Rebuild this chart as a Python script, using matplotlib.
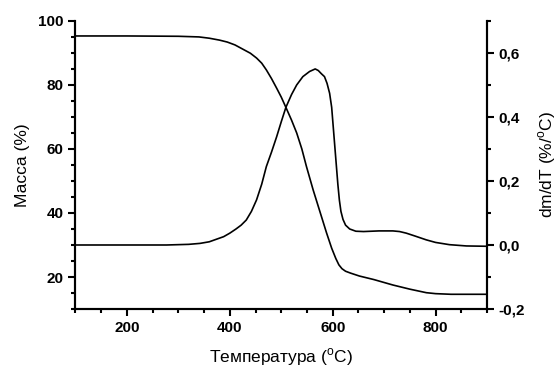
import numpy as np
import matplotlib as mpl
import matplotlib.pyplot as plt
from matplotlib.ticker import MultipleLocator, FuncFormatter

plt.rcParams['font.family'] = ['Liberation Sans', 'DejaVu Sans']
plt.rcParams['mathtext.fontset'] = 'custom'
plt.rcParams['mathtext.rm'] = 'Liberation Sans'

# TG curve: mass (%) vs temperature (C)
tg_temp = [100, 200, 300, 340, 360, 380, 395, 410, 425, 440, 452, 462, 471, 481, 491, 500,
           509, 520, 530, 540, 549, 562, 575, 588, 598, 606, 612, 618, 625, 635, 652, 680,
           717, 750, 782, 800, 830, 900]
tg_mass = [95.3, 95.3, 95.2, 95.0, 94.6, 94.0, 93.4, 92.5, 91.2, 89.9, 88.4, 86.8, 84.7, 82.0,
           79.0, 76.2, 73.0, 69.0, 65.0, 60.0, 54.5, 47.2, 40.5, 33.8, 29.0, 25.8, 23.8, 22.6,
           21.8, 21.2, 20.3, 19.2, 17.5, 16.2, 15.1, 14.8, 14.6, 14.6]

# DTG curve: dm/dT (%/C) vs temperature (C)
dtg_temp = [100, 277, 320, 342, 360, 374, 388, 400, 412, 422, 432, 442, 452, 462, 471, 481,
            491, 500, 509, 520, 530, 542, 555, 566, 572, 578, 584, 589, 594, 598, 601, 604,
            607, 610, 613, 616, 620, 625, 633, 645, 660, 690, 717, 730, 743, 760, 782, 800,
            827, 860, 900]
dtg_val = [0.0, 0.0, 0.002, 0.005, 0.01, 0.018, 0.026, 0.037, 0.05, 0.062, 0.078, 0.105, 0.141,
           0.19, 0.245, 0.29, 0.338, 0.385, 0.43, 0.47, 0.50, 0.526, 0.542, 0.55, 0.545, 0.535,
           0.526, 0.505, 0.474, 0.43, 0.37, 0.31, 0.25, 0.19, 0.14, 0.105, 0.08, 0.062, 0.05,
           0.043, 0.042, 0.044, 0.044, 0.042, 0.037, 0.028, 0.016, 0.008, 0.001, -0.003, -0.004]

fig = plt.figure(figsize=(5.58, 3.67), dpi=100)
ax = fig.add_axes([0.1353, 0.158, 0.7375, 0.785])
ax2 = ax.twinx()

ax.plot(tg_temp, tg_mass, color='black', lw=1.2)
ax2.plot(dtg_temp, dtg_val, color='black', lw=1.2)

ax.set_xlim(100, 900)
ax.set_ylim(10, 100)
ax2.set_ylim(-0.2, 0.7)

ax.xaxis.set_major_locator(MultipleLocator(200))
ax.xaxis.set_minor_locator(MultipleLocator(50))
ax.yaxis.set_major_locator(MultipleLocator(20))
ax.yaxis.set_minor_locator(MultipleLocator(5))
ax2.yaxis.set_major_locator(MultipleLocator(0.2))
ax2.yaxis.set_minor_locator(MultipleLocator(0.1))
ax2.yaxis.set_major_formatter(FuncFormatter(lambda v, p: f"{v:.1f}".replace('.', ',').replace('-0,0', '0,0')))

for a in (ax, ax2):
    a.spines['top'].set_visible(False)
    for s in ('left', 'right', 'bottom'):
        a.spines[s].set_linewidth(1.5)
    a.tick_params(which='major', direction='out', length=5, width=1.5, labelsize=11)
    a.tick_params(which='minor', direction='out', length=3, width=1.5)
    for lbl in a.get_xticklabels() + a.get_yticklabels():
        lbl.set_fontweight('bold')

ax.set_xlabel('Температура ($^{\\mathrm{o}}$C)', fontsize=12.5, labelpad=8)
ax.set_ylabel('Масса (%)', fontsize=12.5, labelpad=6)
ax2.set_ylabel('dm/dT (%/$^{\\mathrm{o}}$C)', fontsize=12.5, labelpad=8)

fig.savefig('out.png', dpi=100)
